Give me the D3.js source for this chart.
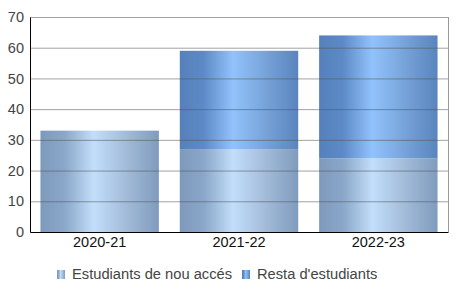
<!DOCTYPE html>
<html>
<head>
<meta charset="utf-8">
<script src="https://cdn.jsdelivr.net/npm/d3@7"></script>
<style>
  body { margin: 0; background: #fff; }
  text { font-family: "Liberation Sans", Arial, sans-serif; }
</style>
</head>
<body>
<script>
// data
let years = ["2020-21", "2021-22", "2022-23"];
let newStudents = [33, 27, 24];
let restStudents = [0, 32, 40];
let seriesNames = ["Estudiants de nou accés", "Resta d'estudiants"];
let yTicks = [0, 10, 20, 30, 40, 50, 60, 70];

let width = 456, height = 305;
let margins = { left: 30, top: 17, right: 8, bottom: 73 };
let plotW = width - margins.left - margins.right;
let plotH = height - margins.top - margins.bottom;

let svg = d3.select("body").append("svg")
  .attr("width", width)
  .attr("height", height);

// gradients
let defs = svg.append("defs");
let gradStops = [
  [["0%", "#7d9abd"], ["20%", "#8aa6c8"], ["45%", "#c2defa"], ["75%", "#9fb8d6"], ["100%", "#7f9bbd"]],
  [["0%", "#5580bb"], ["20%", "#5d8ac6"], ["45%", "#92c2fb"], ["75%", "#74a0d6"], ["100%", "#5a84bd"]]
];
gradStops.forEach((stops, i) => {
  let g = defs.append("linearGradient").attr("id", "grad" + i)
    .attr("x1", "0%").attr("x2", "100%").attr("y1", "0%").attr("y2", "0%");
  stops.forEach(s => g.append("stop").attr("offset", s[0]).attr("stop-color", s[1]));
});

let xScale = d3.scaleBand().domain(years).range([0, plotW]).paddingInner(0.15).paddingOuter(0.075);
let yScale = d3.scaleLinear().domain([0, 70]).range([plotH, 0]);

let container = svg.append("g")
  .attr("transform", `translate(${margins.left}, ${margins.top})`);

// stacked data
let rows = years.map((y, i) => ({ year: y, nou: newStudents[i], resta: restStudents[i] }));
let stacked = d3.stack().keys(["nou", "resta"])(rows);

container.selectAll(".series").data(stacked).join("g")
  .attr("fill", (d, i) => `url(#grad${i})`)
  .selectAll("rect").data(d => d).join("rect")
  .attr("x", d => xScale(d.data.year))
  .attr("width", xScale.bandwidth())
  .attr("y", d => yScale(d[1]))
  .attr("height", d => yScale(d[0]) - yScale(d[1]));

// gridlines drawn on top, semi-transparent
container.selectAll(".grid").data(yTicks.slice(1)).join("line")
  .attr("x1", 0).attr("x2", plotW)
  .attr("y1", d => yScale(d) + 0.5).attr("y2", d => yScale(d) + 0.5)
  .attr("stroke", "#555").attr("stroke-opacity", 0.55);

// right border
container.append("line")
  .attr("x1", plotW + 0.5).attr("x2", plotW + 0.5)
  .attr("y1", 0).attr("y2", plotH)
  .attr("stroke", "#999");

// axes
let yAxis = d3.axisLeft(yScale).tickValues(yTicks).tickSize(0).tickPadding(6);
let yAxisG = container.append("g").call(yAxis);
yAxisG.select(".domain").attr("stroke", "#000");
yAxisG.selectAll("text").attr("font-size", 14.5).attr("fill", "#444")
  .attr("font-family", "Liberation Sans, Arial, sans-serif");

let xAxis = d3.axisBottom(xScale).tickSize(0).tickPadding(5);
let xAxisG = container.append("g")
  .attr("transform", `translate(0, ${plotH})`)
  .call(xAxis);
xAxisG.select(".domain").attr("stroke", "#000");
xAxisG.selectAll("text").attr("font-size", 14.5).attr("fill", "#111")
  .attr("font-family", "Liberation Sans, Arial, sans-serif");

// legend
let legend = svg.append("g").attr("transform", "translate(57, 270)");
let legendX = [0, 185];
seriesNames.forEach((name, i) => {
  legend.append("rect")
    .attr("x", legendX[i]).attr("y", 0)
    .attr("width", 8).attr("height", 9)
    .attr("fill", `url(#grad${i})`);
  legend.append("text")
    .attr("x", legendX[i] + 15).attr("y", 9)
    .attr("font-size", 14.7).attr("fill", "#444")
    .text(name);
});
</script>
</body>
</html>
